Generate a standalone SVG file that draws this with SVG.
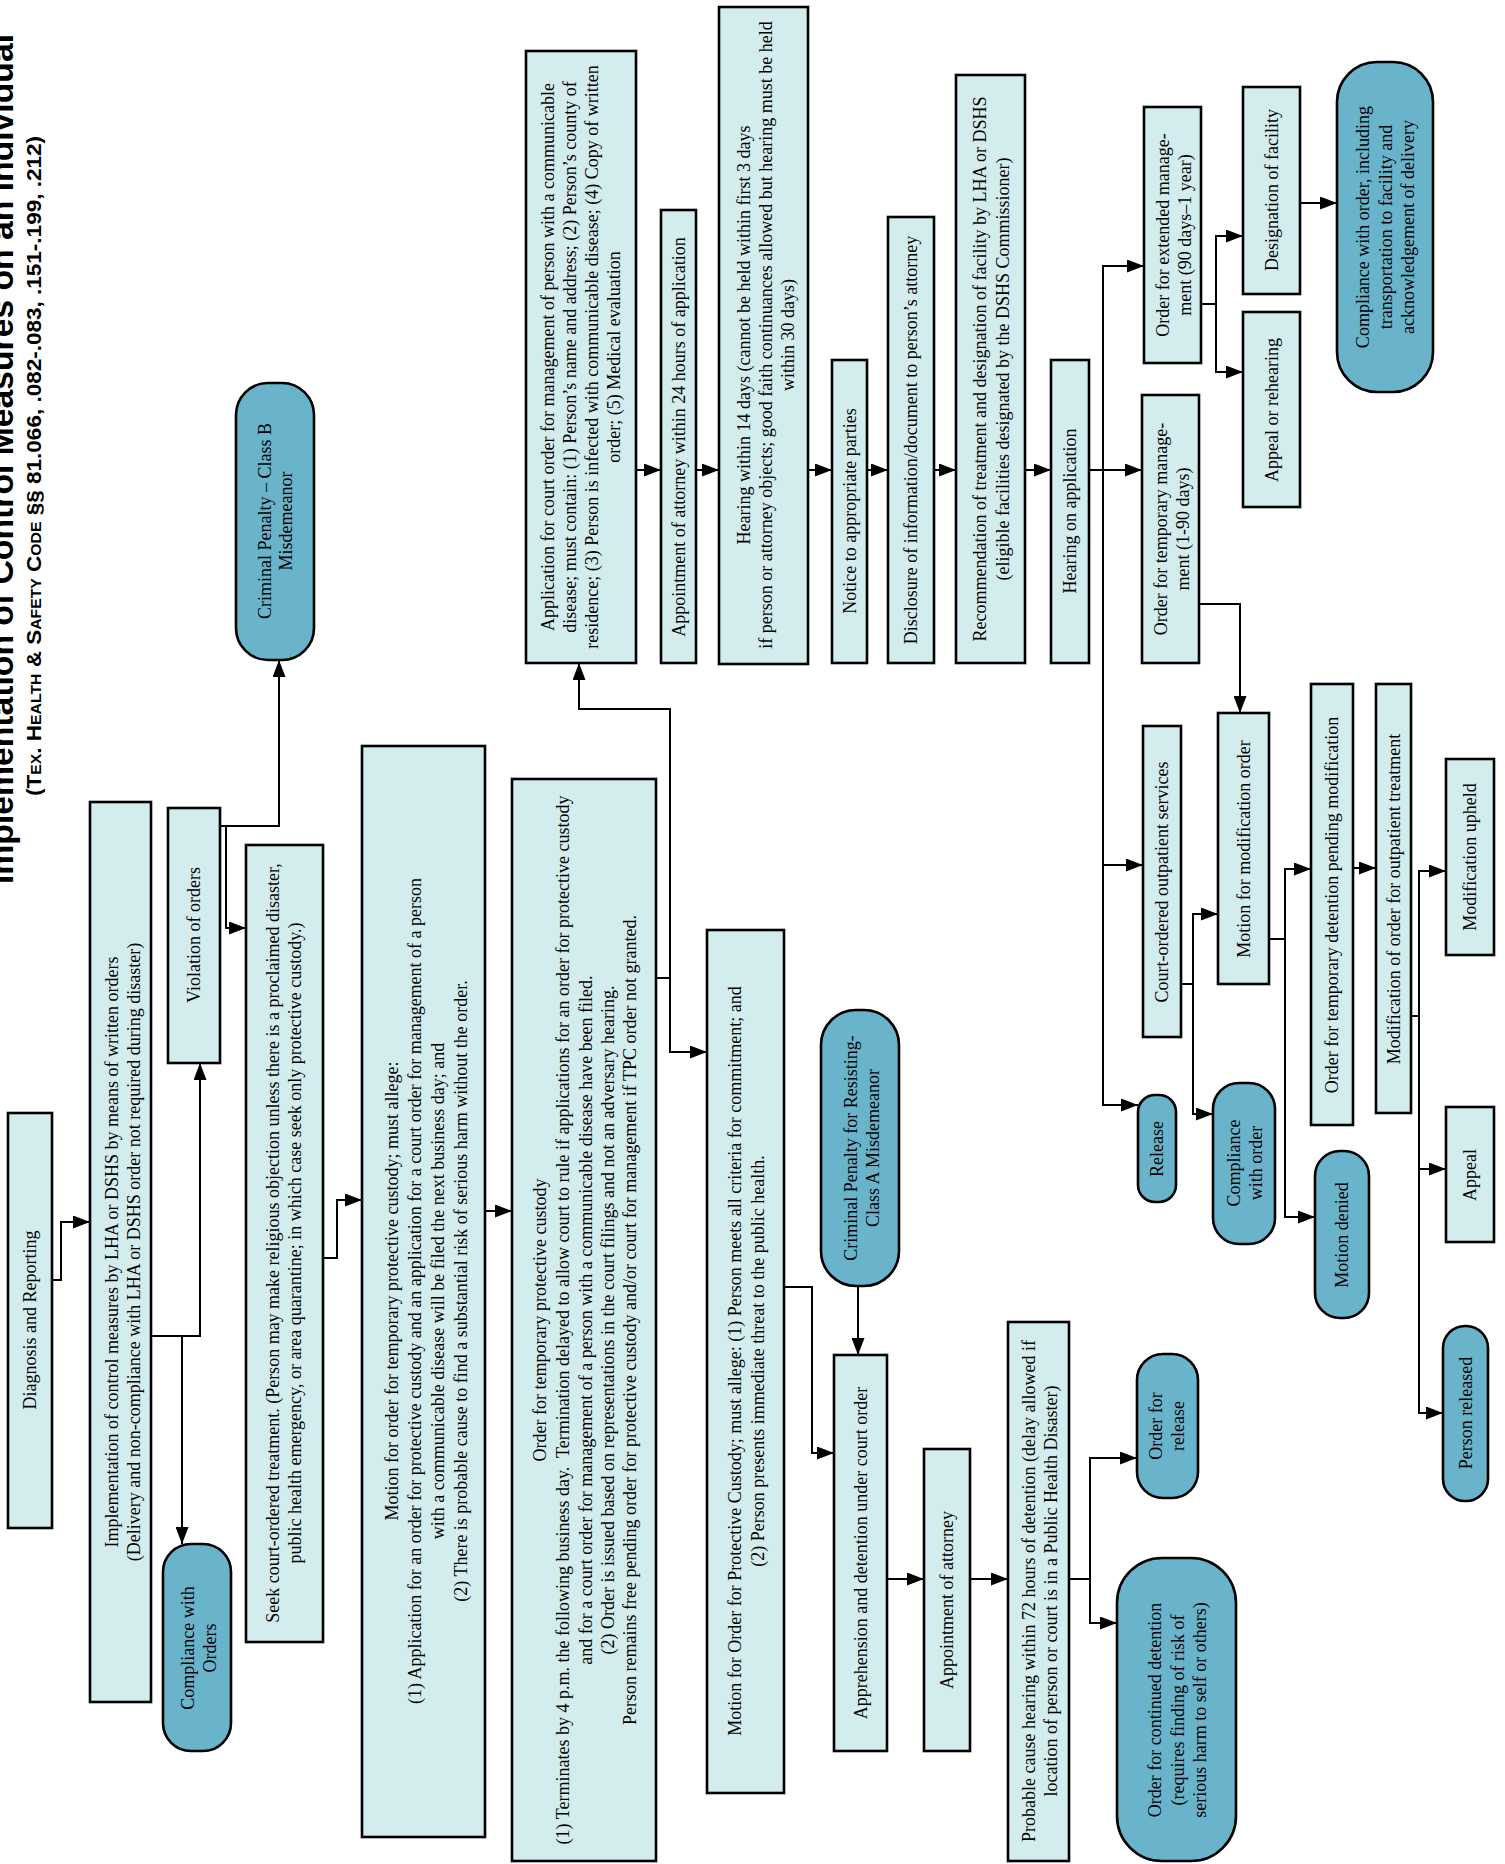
<svg xmlns="http://www.w3.org/2000/svg" width="1505" height="1864" viewBox="0 0 1505 1864">
<style>
.box{fill:#d3ecee;stroke:#000;stroke-width:2.6}
.rbox{fill:#69b4cb;stroke:#000;stroke-width:2.6}
.t{font-family:"Liberation Serif","Times New Roman",serif;font-size:18px;text-anchor:middle;dominant-baseline:central;fill:#000}
.c{fill:none;stroke:#000;stroke-width:2;marker-end:url(#ah)}
.l{fill:none;stroke:#000;stroke-width:2}
.title{font-family:"Liberation Sans",Arial,sans-serif;font-weight:bold;font-size:34px;fill:#000}
.sub{font-family:"Liberation Sans",Arial,sans-serif;font-weight:bold;font-size:20px;font-variant:small-caps;fill:#000}
</style>
<defs>
<marker id="ah" markerUnits="userSpaceOnUse" markerWidth="17" markerHeight="13" refX="17" refY="6.5" orient="auto">
<path d="M0,0 L17,6.5 L0,13 z" fill="#000"/>
</marker>
</defs>
<rect width="1505" height="1864" fill="#fff"/>
<g id="title">
<text class="title" transform="translate(13,884) rotate(-90)" textLength="850" lengthAdjust="spacingAndGlyphs">Implementation of Control Measures on an Individual</text>
<text class="sub" transform="translate(41,796) rotate(-90)" textLength="660" lengthAdjust="spacingAndGlyphs">(Tex. Health &amp; Safety Code §§ 81.066, .082-.083, .151-.199, .212)</text>
</g>
<g id="connectors">
<path class="c" d="M52,1280 H61 V1222 H90"/>
<path class="c" d="M151,1336 H200 V1063"/>
<path class="c" d="M182,1336 V1544"/>
<path class="c" d="M220,826 H279 V660"/>
<path class="c" d="M226,826 V928 H246"/>
<path class="c" d="M323,1258 H337 V1200 H362"/>
<path class="c" d="M485,1211 H512"/>
<path class="c" d="M656,978 H670 V709 H579 V663"/>
<path class="c" d="M670,978 V1052 H707"/>
<path class="c" d="M636,470 H661"/>
<path class="c" d="M696,470 H719"/>
<path class="c" d="M808,470 H832"/>
<path class="c" d="M867,470 H888"/>
<path class="c" d="M934,470 H956"/>
<path class="c" d="M1025,470 H1051"/>
<path class="c" d="M1089,470 H1142"/>
<path class="c" d="M1103,470 V266 H1144"/>
<path class="c" d="M1103,470 V1105 H1138"/>
<path class="c" d="M1103,865 H1143"/>
<path class="c" d="M1201,304 H1216 V236 H1243"/>
<path class="c" d="M1216,304 V372 H1243"/>
<path class="c" d="M1300,203 H1337"/>
<path class="c" d="M1199,604 H1240 V713"/>
<path class="c" d="M1181,984 H1193 V914 H1218"/>
<path class="c" d="M1193,984 V1114 H1213"/>
<path class="c" d="M1269,939 H1285 V869 H1311"/>
<path class="c" d="M1285,939 V1217 H1315"/>
<path class="c" d="M1353,868 H1376"/>
<path class="c" d="M1411,1016 H1419 V871 H1446"/>
<path class="c" d="M1419,1016 V1413 H1443"/>
<path class="c" d="M1419,1169 H1446"/>
<path class="c" d="M784,1287 H812 V1453 H834"/>
<path class="c" d="M858,1286 V1355"/>
<path class="c" d="M887,1579 H924"/>
<path class="c" d="M970,1579 H1008"/>
<path class="c" d="M1069,1579 H1090 V1458 H1137"/>
<path class="c" d="M1090,1579 V1623 H1117"/>
</g>
<g id="diag"><rect class="box" x="8" y="1113" width="44" height="415"/>
<text class="t" x="30" y="1320" transform="rotate(-90 30 1320)">Diagnosis and Reporting</text></g>
<g id="impl"><rect class="box" x="90" y="802" width="61" height="900"/>
<text class="t" x="112" y="1252" transform="rotate(-90 112 1252)">Implementation of control measures by LHA or DSHS by means of written orders</text>
<text class="t" x="134" y="1252" transform="rotate(-90 134 1252)">(Delivery and non-compliance with LHA or DSHS order not required during disaster)</text></g>
<g id="viol"><rect class="box" x="168" y="808" width="52" height="255"/>
<text class="t" x="194" y="935" transform="rotate(-90 194 935)">Violation of orders</text></g>
<g id="comp_orders"><rect class="rbox" x="163" y="1544" width="68" height="207" rx="28"/>
<text class="t" x="188" y="1648" transform="rotate(-90 188 1648)">Compliance with</text>
<text class="t" x="210" y="1648" transform="rotate(-90 210 1648)">Orders</text></g>
<g id="crimB"><rect class="rbox" x="236" y="383" width="78" height="277" rx="32"/>
<text class="t" x="265" y="521" transform="rotate(-90 265 521)">Criminal Penalty – Class B</text>
<text class="t" x="286" y="521" transform="rotate(-90 286 521)">Misdemeanor</text></g>
<g id="seek"><rect class="box" x="246" y="845" width="77" height="797"/>
<text class="t" x="273" y="1243" transform="rotate(-90 273 1243)">Seek court-ordered treatment. (Person may make religious objection unless there is a proclaimed disaster,</text>
<text class="t" x="295" y="1243" transform="rotate(-90 295 1243)">public health emergency, or area quarantine; in which case seek only protective custody.)</text></g>
<g id="motion_tpc"><rect class="box" x="362" y="746" width="123" height="1091"/>
<text class="t" x="392" y="1291" transform="rotate(-90 392 1291)">Motion for order for temporary protective custody; must allege:</text>
<text class="t" x="415" y="1291" transform="rotate(-90 415 1291)">(1) Application for an order for protective custody and an application for a court order for management of a person</text>
<text class="t" x="438" y="1291" transform="rotate(-90 438 1291)">with a communicable disease will be filed the next business day; and</text>
<text class="t" x="461" y="1291" transform="rotate(-90 461 1291)">(2) There is probable cause to find a substantial risk of serious harm without the order.</text></g>
<g id="order_tpc"><rect class="box" x="512" y="779" width="144" height="1082"/>
<text class="t" x="540" y="1320" transform="rotate(-90 540 1320)">Order for temporary protective custody</text>
<text class="t" x="563" y="1320" transform="rotate(-90 563 1320)">(1) Terminates by 4 p.m. the following business day.&#160; Termination delayed to allow court to rule if applications for an order for protective custody</text>
<text class="t" x="586" y="1320" transform="rotate(-90 586 1320)">and for a court order for management of a person with a communicable disease have been filed.</text>
<text class="t" x="608" y="1320" transform="rotate(-90 608 1320)">(2) Order is issued based on representations in the court filings and not an adversary hearing.</text>
<text class="t" x="630" y="1320" transform="rotate(-90 630 1320)">Person remains free pending order for protective custody and/or court for management if TPC order not granted.</text></g>
<g id="app"><rect class="box" x="526" y="51" width="110" height="612"/>
<text class="t" x="548" y="357" transform="rotate(-90 548 357)">Application for court order for management of person with a communicable</text>
<text class="t" x="570" y="357" transform="rotate(-90 570 357)">disease; must contain: (1) Person’s name and address; (2) Person’s county of</text>
<text class="t" x="592" y="357" transform="rotate(-90 592 357)">residence; (3) Person is infected with communicable disease; (4) Copy of written</text>
<text class="t" x="614" y="357" transform="rotate(-90 614 357)">order; (5) Medical evaluation</text></g>
<g id="appt24"><rect class="box" x="661" y="210" width="35" height="453"/>
<text class="t" x="679" y="437" transform="rotate(-90 679 437)">Appointment of attorney within 24 hours of application</text></g>
<g id="hearing14"><rect class="box" x="719" y="7" width="89" height="657"/>
<text class="t" x="744" y="335" transform="rotate(-90 744 335)">Hearing within 14 days (cannot be held within first 3 days</text>
<text class="t" x="766" y="335" transform="rotate(-90 766 335)">if person or attorney objects; good faith continuances allowed but hearing must be held</text>
<text class="t" x="788" y="335" transform="rotate(-90 788 335)">within 30 days)</text></g>
<g id="notice"><rect class="box" x="832" y="360" width="35" height="303"/>
<text class="t" x="850" y="511" transform="rotate(-90 850 511)">Notice to appropriate parties</text></g>
<g id="disclosure"><rect class="box" x="888" y="217" width="46" height="446"/>
<text class="t" x="911" y="440" transform="rotate(-90 911 440)">Disclosure of information/document to person’s attorney</text></g>
<g id="rec"><rect class="box" x="956" y="75" width="69" height="588"/>
<text class="t" x="980" y="369" transform="rotate(-90 980 369)">Recommendation of treatment and designation of facility by LHA or DSHS</text>
<text class="t" x="1003" y="369" transform="rotate(-90 1003 369)">(eligible facilities designated by the DSHS Commissioner)</text></g>
<g id="hearing_app"><rect class="box" x="1051" y="360" width="38" height="303"/>
<text class="t" x="1070" y="511" transform="rotate(-90 1070 511)">Hearing on application</text></g>
<g id="order_ext"><rect class="box" x="1144" y="107" width="57" height="256"/>
<text class="t" x="1163" y="235" transform="rotate(-90 1163 235)">Order for extended manage-</text>
<text class="t" x="1185" y="235" transform="rotate(-90 1185 235)">ment (90 days–1 year)</text></g>
<g id="order_temp"><rect class="box" x="1142" y="395" width="57" height="268"/>
<text class="t" x="1161" y="529" transform="rotate(-90 1161 529)">Order for temporary manage-</text>
<text class="t" x="1183" y="529" transform="rotate(-90 1183 529)">ment (1-90 days)</text></g>
<g id="designation"><rect class="box" x="1243" y="87" width="57" height="207"/>
<text class="t" x="1272" y="190" transform="rotate(-90 1272 190)">Designation of facility</text></g>
<g id="appeal_rehearing"><rect class="box" x="1243" y="312" width="57" height="195"/>
<text class="t" x="1272" y="410" transform="rotate(-90 1272 410)">Appeal or rehearing</text></g>
<g id="comp_incl"><rect class="rbox" x="1337" y="62" width="96" height="330" rx="40"/>
<text class="t" x="1363" y="227" transform="rotate(-90 1363 227)">Compliance with order, including</text>
<text class="t" x="1386" y="227" transform="rotate(-90 1386 227)">transportation to facility and</text>
<text class="t" x="1408" y="227" transform="rotate(-90 1408 227)">acknowledgement of delivery</text></g>
<g id="court_out"><rect class="box" x="1143" y="726" width="38" height="311"/>
<text class="t" x="1162" y="882" transform="rotate(-90 1162 882)">Court-ordered outpatient services</text></g>
<g id="release"><rect class="rbox" x="1138" y="1095" width="38" height="107" rx="17"/>
<text class="t" x="1157" y="1149" transform="rotate(-90 1157 1149)">Release</text></g>
<g id="motion_mod"><rect class="box" x="1218" y="713" width="51" height="271"/>
<text class="t" x="1244" y="849" transform="rotate(-90 1244 849)">Motion for modification order</text></g>
<g id="comp_order"><rect class="rbox" x="1213" y="1083" width="62" height="161" rx="26"/>
<text class="t" x="1234" y="1163" transform="rotate(-90 1234 1163)">Compliance</text>
<text class="t" x="1256" y="1163" transform="rotate(-90 1256 1163)">with order</text></g>
<g id="order_tempdet"><rect class="box" x="1311" y="684" width="42" height="441"/>
<text class="t" x="1332" y="905" transform="rotate(-90 1332 905)">Order for temporary detention pending modification</text></g>
<g id="motion_denied"><rect class="rbox" x="1315" y="1151" width="54" height="167" rx="25"/>
<text class="t" x="1342" y="1235" transform="rotate(-90 1342 1235)">Motion denied</text></g>
<g id="modification"><rect class="box" x="1376" y="684" width="35" height="429"/>
<text class="t" x="1394" y="899" transform="rotate(-90 1394 899)">Modification of order for outpatient treatment</text></g>
<g id="mod_upheld"><rect class="box" x="1446" y="759" width="48" height="196"/>
<text class="t" x="1470" y="857" transform="rotate(-90 1470 857)">Modification upheld</text></g>
<g id="appeal"><rect class="box" x="1446" y="1107" width="48" height="135"/>
<text class="t" x="1470" y="1175" transform="rotate(-90 1470 1175)">Appeal</text></g>
<g id="person_released"><rect class="rbox" x="1443" y="1326" width="45" height="175" rx="22"/>
<text class="t" x="1466" y="1413" transform="rotate(-90 1466 1413)">Person released</text></g>
<g id="motion_pc"><rect class="box" x="707" y="930" width="77" height="863"/>
<text class="t" x="735" y="1361" transform="rotate(-90 735 1361)">Motion for Order for Protective Custody; must allege: (1) Person meets all criteria for commitment; and</text>
<text class="t" x="758" y="1361" transform="rotate(-90 758 1361)">(2) Person presents immediate threat to the public health.</text></g>
<g id="crimA"><rect class="rbox" x="821" y="1010" width="78" height="276" rx="35"/>
<text class="t" x="851" y="1148" transform="rotate(-90 851 1148)">Criminal Penalty for Resisting-</text>
<text class="t" x="873" y="1148" transform="rotate(-90 873 1148)">Class A Misdemeanor</text></g>
<g id="apprehension"><rect class="box" x="834" y="1355" width="53" height="396"/>
<text class="t" x="861" y="1553" transform="rotate(-90 861 1553)">Apprehension and detention under court order</text></g>
<g id="appt"><rect class="box" x="924" y="1449" width="46" height="302"/>
<text class="t" x="947" y="1600" transform="rotate(-90 947 1600)">Appointment of attorney</text></g>
<g id="probable"><rect class="box" x="1008" y="1322" width="61" height="539"/>
<text class="t" x="1029" y="1591" transform="rotate(-90 1029 1591)">Probable cause hearing within 72 hours of detention (delay allowed if</text>
<text class="t" x="1051" y="1591" transform="rotate(-90 1051 1591)">location of person or court is in a Public Health Disaster)</text></g>
<g id="release_order"><rect class="rbox" x="1137" y="1354" width="61" height="144" rx="26"/>
<text class="t" x="1156" y="1426" transform="rotate(-90 1156 1426)">Order for</text>
<text class="t" x="1178" y="1426" transform="rotate(-90 1178 1426)">release</text></g>
<g id="continued"><rect class="rbox" x="1117" y="1558" width="119" height="303" rx="45"/>
<text class="t" x="1155" y="1710" transform="rotate(-90 1155 1710)">Order for continued detention</text>
<text class="t" x="1178" y="1710" transform="rotate(-90 1178 1710)">(requires finding of risk of</text>
<text class="t" x="1200" y="1710" transform="rotate(-90 1200 1710)">serious harm to self or others)</text></g>
</svg>
